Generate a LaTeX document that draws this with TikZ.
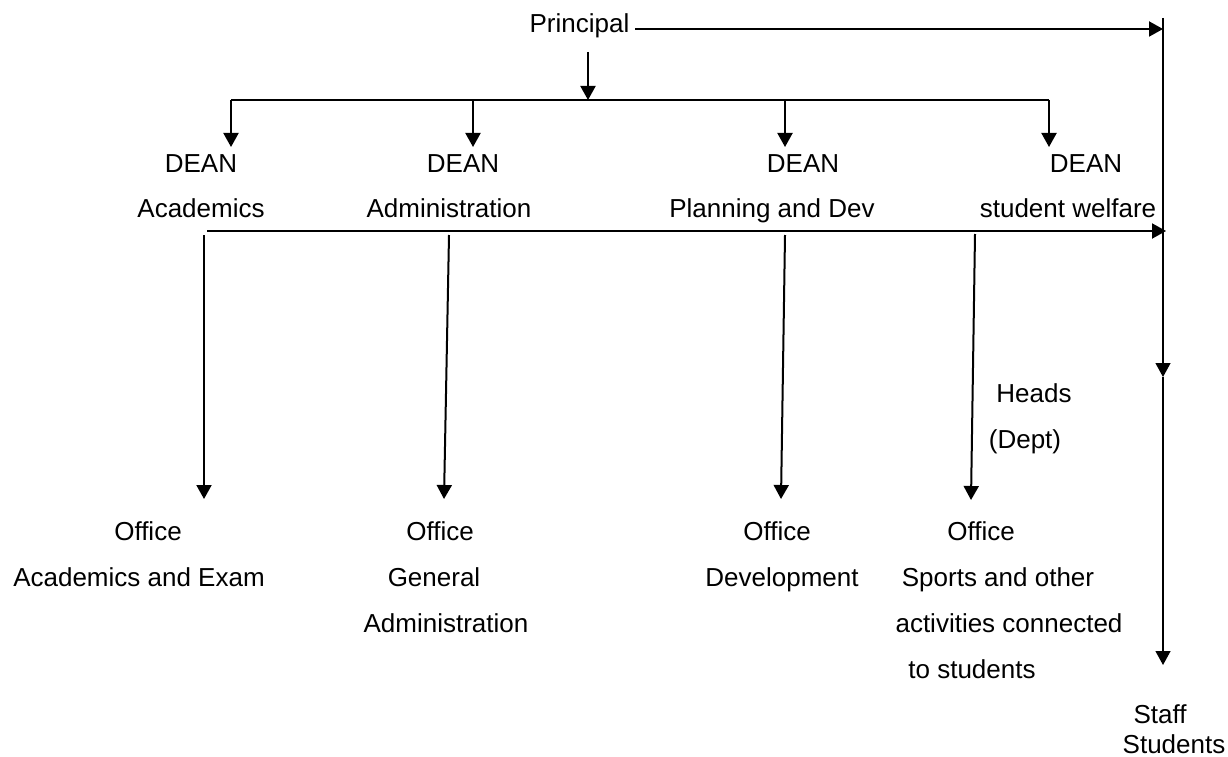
\documentclass[tikz,border=0pt]{standalone}
\usepackage{fontspec}
\setmainfont{Liberation Sans}
\usetikzlibrary{arrows.meta}
\begin{document}
\begin{tikzpicture}[x=1pt,y=-1pt,
  lbl/.style={inner sep=0pt,anchor=base,font=\fontsize{26}{30}\selectfont},
  conn/.style={line width=2pt},
  thinconn/.style={line width=1.3pt},
  tip/.style={-{Triangle[length=14pt,width=15pt]}},
  arr/.style={conn,tip}]
\useasboundingbox (0,0) rectangle (1228,757);
% labels (positioned by baseline)
\node[lbl] (principal) at (579.5,33) {Principal};
\node[lbl] (deanA1) at (201,172) {DEAN};
\node[lbl] (deanB1) at (463,172) {DEAN};
\node[lbl] (deanC1) at (803,172) {DEAN};
\node[lbl] (deanD1) at (1086,172) {DEAN};
\node[lbl] (deanA2) at (201,217) {Academics};
\node[lbl] (deanB2) at (449,217) {Administration};
\node[lbl] (deanC2) at (772,217) {Planning and Dev};
\node[lbl] (deanD2) at (1068,217) {student welfare};
\node[lbl] (heads1) at (1034,402) {Heads};
\node[lbl] (heads2) at (1025,448) {(Dept)};
\node[lbl] (offA1) at (148,540) {Office};
\node[lbl] (offA2) at (139,586) {Academics and Exam};
\node[lbl] (offB1) at (440,540) {Office};
\node[lbl] (offB2) at (434,586) {General};
\node[lbl] (offB3) at (446,632) {Administration};
\node[lbl] (offC1) at (777,540) {Office};
\node[lbl] (offC2) at (782,586) {Development};
\node[lbl] (offD1) at (981,540) {Office};
\node[lbl] (offD2) at (998,586) {Sports and other};
\node[lbl] (offD3) at (1009,632) {activities connected};
\node[lbl] (offD4) at (972,678) {to students};
\node[lbl] (staff) at (1160,723) {Staff};
\node[lbl] (students) at (1174,753) {Students};
% coordinates
\coordinate (pStart) at (635,29);
\coordinate (pR) at (1163,29);
\coordinate (vTop) at (1163,18);
\coordinate (vMid) at (1163,377);
\coordinate (vEnd) at (1163,665);
\coordinate (pDownTop) at (588,52);
\coordinate (bar) at (588,100);
\coordinate (barL) at (231,100);
\coordinate (barR) at (1049,100);
\coordinate (bB) at (473,100);
\coordinate (bC) at (785,100);
\coordinate (tA) at (231,147);
\coordinate (tB) at (473,147);
\coordinate (tC) at (785,147);
\coordinate (tD) at (1049,147);
\coordinate (hL) at (207,231);
\coordinate (hR) at (1166,231);
\coordinate (sA) at (204,235);
\coordinate (eA) at (204,499);
\coordinate (sB) at (449,235);
\coordinate (eB) at (444,499);
\coordinate (sC) at (785,235);
\coordinate (eC) at (781,499);
\coordinate (sD) at (975,234);
\coordinate (eD) at (971,500);
% connectors
\draw[arr] (pStart) -- (pR);
\draw[thinconn,tip] (vTop) -- (vMid);
\draw[thinconn,tip] (vMid) -- (vEnd);
\draw[arr] (pDownTop) -- (bar);
\draw[conn] (barL) -- (barR);
\draw[arr] (barL) -- (tA);
\draw[arr] (bB) -- (tB);
\draw[arr] (bC) -- (tC);
\draw[arr] (barR) -- (tD);
\draw[arr] (hL) -- (hR);
\draw[arr] (sA) -- (eA);
\draw[arr] (sB) -- (eB);
\draw[arr] (sC) -- (eC);
\draw[arr] (sD) -- (eD);
\end{tikzpicture}
\end{document}
